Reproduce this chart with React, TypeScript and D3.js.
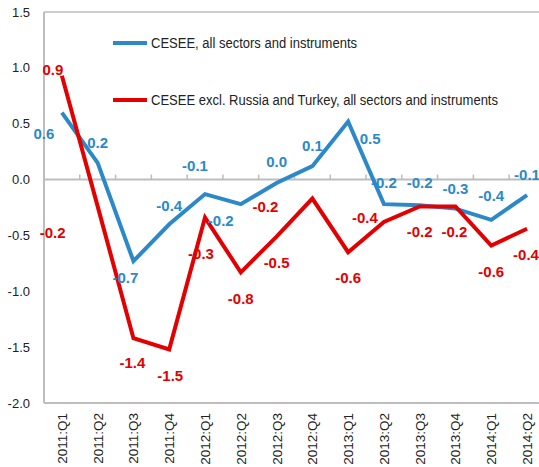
import React from 'react';
import * as d3 from 'd3';

const categories = [
  '2011:Q1', '2011:Q2', '2011:Q3', '2011:Q4',
  '2012:Q1', '2012:Q2', '2012:Q3', '2012:Q4',
  '2013:Q1', '2013:Q2', '2013:Q3', '2013:Q4',
  '2014:Q1', '2014:Q2',
];

const allSectors = [0.6, 0.15, -0.73, -0.4, -0.13, -0.22, -0.03, 0.12, 0.52, -0.22, -0.23, -0.26, -0.36, -0.14];
const exclRussiaTurkey = [0.93, -0.24, -1.42, -1.52, -0.34, -0.83, -0.51, -0.17, -0.65, -0.38, -0.24, -0.24, -0.59, -0.44];

const yTicks = [1.5, 1.0, 0.5, 0.0, -0.5, -1.0, -1.5, -2.0];

const seriesNames = [
  'CESEE, all sectors and instruments',
  'CESEE excl. Russia and Turkey, all sectors and instruments',
];

// label nudges (dx, dy) from each point, to follow the hand placed labels
const blueLabelShift = [
  [-18, 21], [0, -20], [-8, 17], [0, -19], [-10, -28], [-20, 17], [0, -21],
  [0, -20], [22, 17], [0, -21], [0, -23], [0, -20], [0, -24], [0, -20],
];
const redLabelShift = [
  [-9, -6], [-45, 26], [-1, 25], [1, 26], [-4, 36], [0, 26], [0, 26],
  [-47, 8], [0, 26], [-19, -4], [0, 25], [-1, 25], [0, 26], [-1, 26],
];

const BLUE = '#2B89CA';
const RED = '#E30000';
const GREY = '#BDBDBD';
const FONT = '"Liberation Sans", Arial, sans-serif';

const W = 539;
const H = 467;
const left = 44;
const top = 12;
const bottom = 403;
const bandW = 35.78;
const right = left + bandW * categories.length;

const fmt = (v: number) => {
  const s = (Math.round(v * 10) / 10).toFixed(1);
  return s === '-0.0' ? '0.0' : s;
};

export default function App() {
  const x = d3.scaleBand<string>().domain(categories).range([left, right]);
  const y = d3.scaleLinear().domain([-2, 1.5]).range([bottom, top]);
  const cx = (c: string) => (x(c) as number) + x.bandwidth() / 2;

  const line = d3.line<number>()
    .x((_, i) => cx(categories[i]))
    .y(d => y(d));

  const series = [
    { values: allSectors, color: BLUE, shift: blueLabelShift },
    { values: exclRussiaTurkey, color: RED, shift: redLabelShift },
  ];

  return (
    <svg width={W} height={H} style={{ position: 'absolute', left: 0, top: 0, background: '#fff' }}>
      {/* plot frame */}
      <line x1={left} x2={right} y1={top} y2={top} stroke={GREY} strokeWidth={1.5} />
      <line x1={left} x2={right} y1={bottom} y2={bottom} stroke={GREY} strokeWidth={2} />
      <line x1={left} x2={left} y1={top} y2={bottom} stroke={GREY} strokeWidth={2} />

      {/* zero axis with ticks */}
      <line x1={left} x2={right} y1={y(0)} y2={y(0)} stroke={GREY} strokeWidth={2} />
      {categories.slice(1).map(c => (
        <line key={c} x1={x(c)} x2={x(c)} y1={y(0)} y2={y(0) - 5} stroke={GREY} strokeWidth={1.5} />
      ))}

      {/* y tick labels */}
      {yTicks.map(t => (
        <text key={t} x={30} y={y(t)} dy="0.35em" textAnchor="end" fontFamily={FONT} fontSize={13} fill="#222">
          {t.toFixed(1)}
        </text>
      ))}

      {/* x tick labels */}
      {categories.map(c => (
        <text key={c} transform={`translate(${cx(c) + 5},${bottom + 10}) rotate(-90)`} textAnchor="end"
          fontFamily={FONT} fontSize={13.5} fill="#222">
          {c}
        </text>
      ))}

      {/* lines */}
      {series.map((s, k) => (
        <path key={k} d={line(s.values) as string} fill="none" stroke={s.color} strokeWidth={4} strokeLinejoin="miter" />
      ))}

      {/* data labels */}
      {series.map((s, k) => s.values.map((v, i) => (
        <text key={`${k}-${i}`} x={cx(categories[i]) + s.shift[i][0]} y={y(v) + s.shift[i][1]} dy="0.35em"
          textAnchor="middle" fontFamily={FONT} fontSize={15} fontWeight="bold" fill={s.color}>
          {fmt(v)}
        </text>
      )))}

      {/* legend */}
      {seriesNames.map((name, k) => {
        const ly = k === 0 ? 43 : 100;
        return (
          <g key={name}>
            <line x1={113} x2={147} y1={ly} y2={ly} stroke={series[k].color} strokeWidth={4} />
            <text x={151} y={ly} dy="0.35em" fontFamily={FONT} fontSize={14} fill="#222"
              textLength={k === 0 ? 206 : 347} lengthAdjust="spacingAndGlyphs">
              {name}
            </text>
          </g>
        );
      })}
    </svg>
  );
}
